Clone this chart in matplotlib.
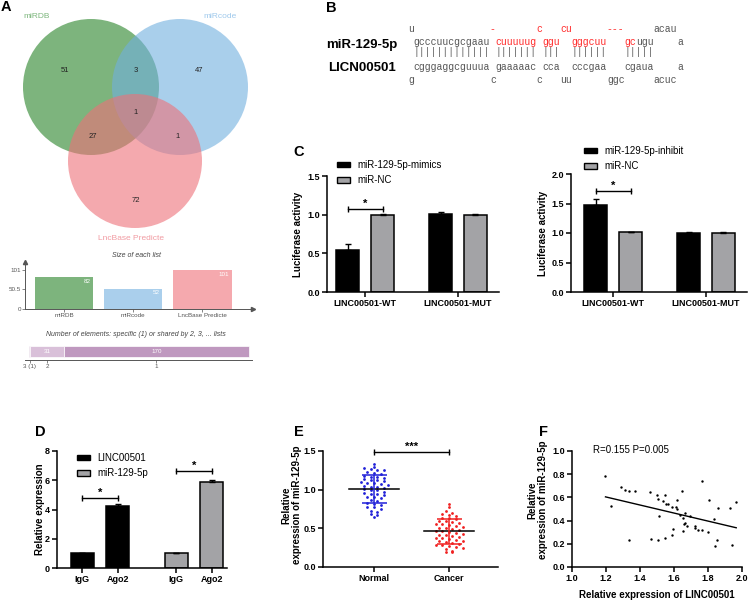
import re
import numpy as np
import matplotlib
matplotlib.use("Agg")
import matplotlib.pyplot as plt
from matplotlib.patches import Circle, Patch

plt.rcParams["font.family"] = ["Liberation Sans", "DejaVu Sans"]

W, H = 753, 601
GRAY = "#a3a3a6"

# ---- A: venn + list sizes ----
SETS = ["miRDB", "miRcode", "LncBase Predicte"]
SET_SIZES = [82, 52, 101]
VENN_COUNTS = [51, 3, 47, 1, 27, 1, 72]   # A, AB, B, ABC, AC, BC, C
SHARED_LABELS = ["3 (1)", "2", "1"]
SHARED_COUNTS = [1, 31, 170]

# ---- B: pairing (red marks the highlighted bases) ----
SEQ_TOP = "u" + " " * 13 + "-" + " " * 7 + "c" + " " * 3 + "cu" + " " * 6 + "---" + " " * 5 + "acau"
SEQ_MIR = " gcccuucgcgaau cuuuuug ggu  gggcuu   gcugu    a"
SEQ_BAR = " ||||||||||||| ||||||| |||  ||||||   |||||"
SEQ_LNC = " cgggaggcguuua gaaaaac cca  cccgaa   cgaua    a"
SEQ_BOT = "g" + " " * 13 + "c" + " " * 7 + "c" + " " * 3 + "uu" + " " * 6 + "ggc" + " " * 5 + "acuc"
RED_TOP = " " * 14 + "-" + " " * 7 + "c" + " " * 3 + "cu" + " " * 6 + "---"
RED_MIR = " " * 15 + "cuuuuug" + " " + "ggu" + "  " + "gggcuu" + "   " + "gc"

# ---- C: luciferase ----
C_GROUPS = ["LINC00501-WT", "LINC00501-MUT"]
C1_MIMICS, C1_MIMICS_ERR = [0.54, 1.01], [0.08, 0.02]
C1_NC, C1_NC_ERR = [1.00, 1.00], [0.015, 0.015]
C2_INHIBIT, C2_INHIBIT_ERR = [1.48, 1.00], [0.09, 0.02]
C2_NC, C2_NC_ERR = [1.01, 1.00], [0.015, 0.02]

# ---- D: RIP ----
D_TICKS = ["IgG", "Ago2", "IgG", "Ago2"]
D_LINC, D_LINC_ERR = [1.0, 4.25], [0.03, 0.12]
D_MIR, D_MIR_ERR = [1.0, 5.85], [0.03, 0.15]

# ---- E: expression ----
E_GROUPS = ["Normal", "Cancer"]
E_NORMAL = [1.33, 1.29, 1.28, 1.27, 1.26, 1.25, 1.23, 1.22, 1.20, 1.18, 1.17, 1.16,
            1.15, 1.14, 1.13, 1.12, 1.11, 1.10, 1.09, 1.08, 1.07, 1.06, 1.05, 1.04,
            1.03, 1.02, 1.01, 1.00, 0.99, 0.97, 0.96, 0.95, 0.94, 0.93, 0.91, 0.90,
            0.89, 0.87, 0.85, 0.83, 0.81, 0.80, 0.78, 0.77, 0.75, 0.73, 0.71, 0.69,
            0.67, 0.65]
E_CANCER = [0.81, 0.77, 0.72, 0.70, 0.68, 0.67, 0.66, 0.64, 0.63, 0.62, 0.60, 0.59,
            0.58, 0.57, 0.56, 0.55, 0.54, 0.53, 0.52, 0.51, 0.50, 0.49, 0.48, 0.47,
            0.46, 0.45, 0.44, 0.43, 0.42, 0.41, 0.40, 0.39, 0.38, 0.37, 0.36, 0.35,
            0.34, 0.33, 0.32, 0.31, 0.30, 0.29, 0.28, 0.27, 0.26, 0.25, 0.23, 0.21,
            0.20, 0.19]

# ---- F: correlation ----
F_LINC = [1.197, 1.230, 1.286, 1.310, 1.337, 1.370, 1.333, 1.458, 1.467, 1.500,
          1.508, 1.512, 1.507, 1.535, 1.549, 1.551, 1.547, 1.567, 1.586, 1.590,
          1.596, 1.613, 1.617, 1.620, 1.633, 1.646, 1.650, 1.654, 1.658, 1.662,
          1.666, 1.678, 1.697, 1.723, 1.724, 1.744, 1.763, 1.763, 1.800, 1.806,
          1.833, 1.839, 1.855, 1.860, 1.930, 1.944, 1.966]
F_MIR = [0.786, 0.523, 0.689, 0.666, 0.657, 0.657, 0.234, 0.643, 0.240, 0.620,
         0.583, 0.440, 0.234, 0.571, 0.623, 0.540, 0.251, 0.540, 0.520, 0.280,
         0.326, 0.514, 0.580, 0.503, 0.451, 0.651, 0.426, 0.311, 0.369, 0.469,
         0.380, 0.354, 0.440, 0.357, 0.337, 0.320, 0.743, 0.320, 0.300, 0.577,
         0.417, 0.177, 0.237, 0.511, 0.509, 0.189, 0.557]
F_STATS = "R=0.155 P=0.005"

fig = plt.figure(figsize=(W / 100, H / 100), dpi=100)


def axes_px(l, t, r, b):
    return fig.add_axes([l / W, 1 - b / H, (r - l) / W, (b - t) / H])


def ftext(x, y, s, **kw):
    kw.setdefault("ha", "center")
    kw.setdefault("va", "center")
    fig.text(x / W, 1 - y / H, s, **kw)


def prism_axes(l, t, r, b, ylim, yticks, fmt):
    ax = axes_px(l, t, r, b)
    ax.spines[["top", "right"]].set_visible(False)
    ax.spines[["left", "bottom"]].set_linewidth(1.1)
    ax.set_ylim(*ylim)
    ax.set_yticks(yticks, [fmt.format(v) for v in yticks], fontweight="bold")
    ax.tick_params(length=3.5, width=1.1, labelsize=6.5, pad=1.5)
    return ax


def bars(ax, xs, vals, errs, fc):
    ax.bar(xs, vals, 0.25, color=fc, edgecolor="black", linewidth=1.1, zorder=2)
    ax.errorbar(xs, vals, yerr=[np.zeros(len(vals)), errs], fmt="none",
                ecolor="black", elinewidth=1, capsize=2.5, capthick=1, zorder=3)


def bracket(ax, x1, x2, y, txt):
    ax.plot([x1, x2], [y, y], color="black", lw=1, marker="|", ms=5, mew=1,
            clip_on=False)
    ax.text((x1 + x2) / 2, y, txt, ha="center", va="bottom", fontsize=8,
            fontweight="bold")


def legend(ax, labels, colors, x, y):
    hs = [Patch(fc=c, ec="black", lw=1) for c in colors]
    ax.legend(hs, labels, loc="upper left", bbox_to_anchor=(x / W, 1 - y / H),
              bbox_transform=fig.transFigure, frameon=False, fontsize=7,
              handlelength=1.3, handleheight=0.55, handletextpad=0.8,
              labelspacing=0.55, borderpad=0, borderaxespad=0)


def swarm(vals, bin_w=0.045, step=0.09):
    vals = np.asarray(vals)
    bins = np.round(vals / bin_w).astype(int)
    xs = np.zeros(len(vals))
    for b in np.unique(bins):
        idx = np.where(bins == b)[0]
        xs[idx] = (np.arange(len(idx)) - (len(idx) - 1) / 2) * step
    return xs


# ================= A =================
ax = axes_px(0, 0, 260, 250)
ax.set_xlim(0, 260)
ax.set_ylim(250, 0)
ax.axis("off")
venn_cols = ["#268226", "#71afdf", "#ee7078"]
label_cols = ["#7cb67c", "#9fc9ec", "#f19ba2"]
for (cx, cy), r, c in zip([(91, 87), (180, 87), (135, 161)], [68, 68, 67], venn_cols):
    ax.add_patch(Circle((cx, cy), r, fc=c, ec="none", alpha=0.6))
region_xy = [(65, 70), (136, 70), (199, 70), (136, 112), (93, 137), (178, 137), (136, 200)]
for (x, y), n in zip(region_xy, VENN_COUNTS):
    ax.text(x, y, str(n), ha="center", va="center", fontsize=5.5, color="#222")
for (x, y), s, c in zip([(37, 16), (220, 16), (131, 238)], SETS, label_cols):
    ax.text(x, y, s, ha="center", va="center", fontsize=6, color=c)

ftext(136, 255, "Size of each list", fontsize=5, style="italic", color="#444")
ax = axes_px(25, 262, 253, 309)
x = np.arange(len(SETS))
ax.bar(x, SET_SIZES, 0.84, color=["#7db47d", "#aacfec", "#f5a9ae"])
for xi, v in zip(x, SET_SIZES):
    ax.text(xi + 0.38, v - 4, str(v), ha="right", va="top", fontsize=4.5, color="white")
ax.set_xlim(-0.565, 2.73)
ax.set_ylim(0, 121.7)
ax.set_yticks([0, 50.5, 101], ["0", "50.5", "101"])
ax.set_xticks(x, SETS)
ax.xaxis.get_major_ticks()[1].set_pad(7)
ax.spines[["top", "right"]].set_visible(False)
ax.spines[["left", "bottom"]].set_color("#555")
ax.spines[["left", "bottom"]].set_linewidth(0.7)
ax.tick_params(length=2, width=0.5, colors="#555", labelsize=4.5, pad=1)
ax.plot(1, 0, ">", transform=ax.transAxes, clip_on=False, color="#555", ms=3)
ax.plot(0, 1, "^", transform=ax.transAxes, clip_on=False, color="#555", ms=3)

ftext(136, 335, "Number of elements: specific (1) or shared by 2, 3, ... lists",
      fontsize=5, style="italic", color="#444")
ax = axes_px(25, 343, 252, 360)
lefts = np.concatenate([[0], np.cumsum(SHARED_COUNTS)[:-1]])
centers = lefts + np.array(SHARED_COUNTS) / 2
ax.barh(0.5, SHARED_COUNTS, 0.64, left=lefts, color=["#a878a8", "#d9c0d9", "#bf98bf"],
        edgecolor="white", linewidth=0.5)
for c, n in zip(centers, SHARED_COUNTS):
    if n > 5:
        ax.text(c, 0.5, str(n), ha="center", va="center", fontsize=4.5, color="white")
ax.set_xlim(-3.7, 204.8)
ax.set_ylim(0, 1)
ax.set_yticks([])
ax.set_xticks(centers, SHARED_LABELS)
ax.xaxis.get_major_ticks()[1].set_pad(7)
ax.spines[["top", "right", "left"]].set_visible(False)
ax.spines["bottom"].set_color("#555")
ax.spines["bottom"].set_linewidth(0.7)
ax.tick_params(length=2, width=0.5, colors="#555", labelsize=4.5, pad=1)

# ================= B =================
x0, col_w = 408, 5.85
rows = [(29, SEQ_TOP, RED_TOP), (42, SEQ_MIR, RED_MIR), (52, SEQ_BAR, ""),
        (67, SEQ_LNC, ""), (80, SEQ_BOT, "")]
for y, seq, red in rows:
    red = red.ljust(len(seq))
    # one text per run of same-coloured characters, placed on the column grid
    mask = "".join("r" if r != " " else ("g" if s != " " else " ") for s, r in zip(seq, red))
    for m in re.finditer(r"r+|g+", mask):
        col = "#ff2a2a" if m.group()[0] == "r" else "#555555"
        ftext(x0 + m.start() * col_w, y, seq[m.start():m.end()], ha="left",
              family="Liberation Mono", fontsize=7, color=col)
ftext(362, 45, "miR-129-5p", fontsize=9.5, fontweight="bold")
ftext(362, 68, "LICN00501", fontsize=9.5, fontweight="bold")

# ================= C =================
ax = prism_axes(327, 176, 499, 292, (0, 1.5), [0, 0.5, 1.0, 1.5], "{:.1f}")
g = np.arange(len(C_GROUPS))
bars(ax, g - 0.188, C1_MIMICS, C1_MIMICS_ERR, "black")
bars(ax, g + 0.188, C1_NC, C1_NC_ERR, GRAY)
ax.set_xlim(-0.409, 1.441)
ax.set_xticks(g, C_GROUPS, fontweight="bold")
bracket(ax, -0.188, 0.188, 1.07, "*")
legend(ax, ["miR-129-5p-mimics", "miR-NC"], ["black", GRAY], 337, 160)
ftext(298, 234, "Luciferase activity", rotation=90, fontsize=7, fontweight="bold")

ax = prism_axes(571, 174, 747, 292, (0, 2.0), [0, 0.5, 1.0, 1.5, 2.0], "{:.1f}")
bars(ax, g - 0.188, C2_INHIBIT, C2_INHIBIT_ERR, "black")
bars(ax, g + 0.188, C2_NC, C2_NC_ERR, GRAY)
ax.set_xlim(-0.452, 1.441)
ax.set_xticks(g, C_GROUPS, fontweight="bold")
bracket(ax, -0.188, 0.188, 1.72, "*")
legend(ax, ["miR-129-5p-inhibit", "miR-NC"], ["black", GRAY], 584, 146)
ftext(543, 233, "Luciferase activity", rotation=90, fontsize=7, fontweight="bold")

# ================= D =================
ax = prism_axes(57, 451, 227, 568, (0, 8), [0, 2, 4, 6, 8], "{:.0f}")
bars(ax, [-0.188, 0.188], D_LINC, D_LINC_ERR, "black")
bars(ax, [0.812, 1.188], D_MIR, D_MIR_ERR, GRAY)
ax.set_xlim(-0.457, 1.351)
ax.set_xticks([-0.188, 0.188, 0.812, 1.188], D_TICKS, fontweight="bold")
bracket(ax, -0.188, 0.188, 4.8, "*")
bracket(ax, 0.812, 1.188, 6.64, "*")
legend(ax, ["LINC00501", "miR-129-5p"], ["black", GRAY], 77, 453)
ftext(40, 509, "Relative expression", rotation=90, fontsize=7, fontweight="bold")

# ================= E =================
ax = prism_axes(323, 451, 498, 567, (0, 1.5), [0, 0.5, 1.0, 1.5], "{:.1f}")
for i, (vals, c) in enumerate([(E_NORMAL, "#2020d8"), (E_CANCER, "#f02020")]):
    m, sd = np.mean(vals), np.std(vals, ddof=1)
    ax.scatter(i + swarm(vals), vals, s=4, color=c, lw=0, zorder=3)
    ax.plot([i - 0.327, i + 0.327], [m, m], color="black", lw=1.1, zorder=4)
    ax.errorbar(i, m, yerr=sd, fmt="none", ecolor=c, elinewidth=1.1,
                capsize=9, capthick=1.1, zorder=4)
ax.set_xlim(-0.68, 1.653)
ax.set_xticks([0, 1], E_GROUPS, fontweight="bold")
bracket(ax, 0, 1, 1.49, "***")
ftext(292, 505, "Relative\nexpression of miR-129-5p", rotation=90, fontsize=7,
      fontweight="bold", linespacing=1.1)

# ================= F =================
ax = prism_axes(572, 451, 742, 567, (0, 1.0), [0, 0.2, 0.4, 0.6, 0.8, 1.0], "{:.1f}")
ax.scatter(F_LINC, F_MIR, s=3, color="black", lw=0, zorder=3)
k, b0 = np.polyfit(F_LINC, F_MIR, 1)
xf = np.array([min(F_LINC), max(F_LINC)])
ax.plot(xf, k * xf + b0, color="black", lw=1)
ax.set_xlim(1.0, 2.0)
ticks = [1.0, 1.2, 1.4, 1.6, 1.8, 2.0]
ax.set_xticks(ticks, [f"{t:.1f}" for t in ticks], fontweight="bold")
ftext(593, 450, F_STATS, ha="left", fontsize=7)
ftext(538, 500, "Relative\nexpression of miR-129-5p", rotation=90, fontsize=7,
      fontweight="bold", linespacing=1.1)
ftext(657, 595, "Relative expression of LINC00501", fontsize=7, fontweight="bold")

# panel letters
for s, (x, y) in zip("ABCDEF", [(6, 7), (331, 8), (299, 152), (40, 432), (299, 432), (544, 432)]):
    ftext(x, y, s, fontsize=10.5, fontweight="bold")

fig.savefig("out.png", dpi=100)
